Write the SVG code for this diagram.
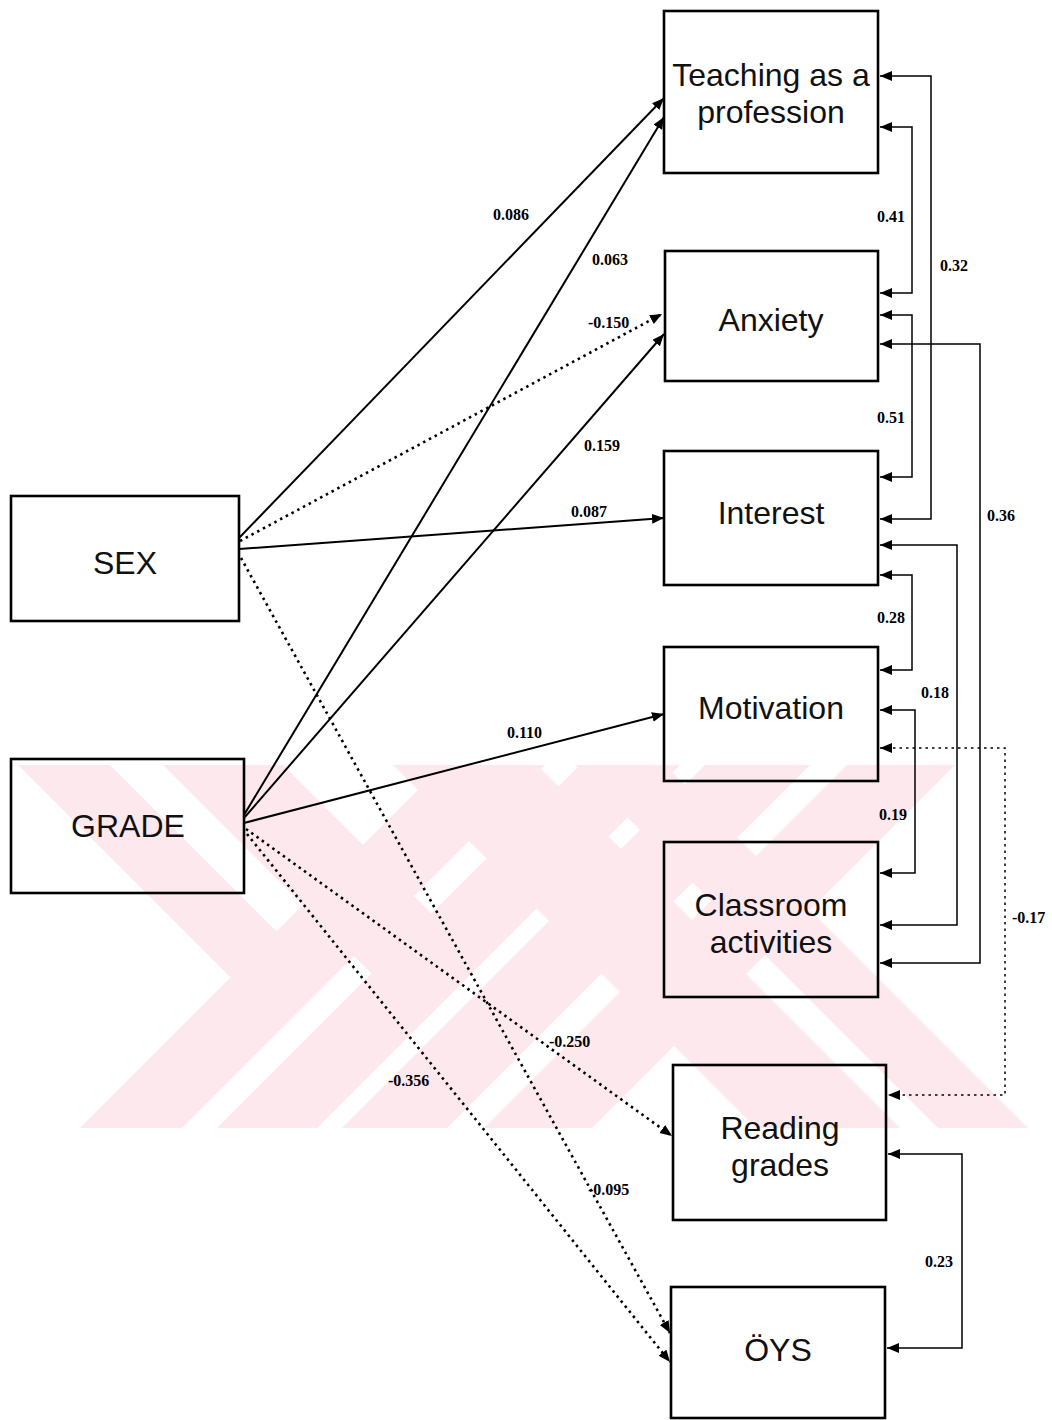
<svg xmlns="http://www.w3.org/2000/svg" width="1052" height="1420" viewBox="0 0 1052 1420">
  <style>
    .box { fill: none; stroke: #000; stroke-width: 2.6; }
    .lbl { font-family: "Liberation Sans", Arial, sans-serif; font-size: 32px; fill: #111; text-anchor: middle; }
    .num { font-family: "Liberation Serif", "Times New Roman", serif; font-size: 16px; font-weight: bold; fill: #000; }
    .path { fill: none; stroke: #000; stroke-width: 2; marker-end: url(#arrow); }
    .dot { stroke-dasharray: 2.5 4; stroke-width: 2.6; }
    .link { fill: none; stroke: #000; stroke-width: 1.5; marker-start: url(#arrow); marker-end: url(#arrow); }
    .wm { fill: #fde9ed; }
  </style>
  <defs>
    <marker id="arrow" markerUnits="userSpaceOnUse" markerWidth="13" markerHeight="11" refX="12" refY="5" orient="auto-start-reverse">
      <path d="M0,0 L12,5 L0,10 z" fill="#000"/>
    </marker>
    <clipPath id="wmClip">
      <rect x="18" y="765" width="1010" height="363"/>
    </clipPath>
  </defs>
  <rect width="1052" height="1420" fill="#fff"/>

  <!-- background mark: diagonal bands at 45 degrees -->
  <g id="watermark" clip-path="url(#wmClip)">
    <polygon class="wm" points="443,765 545,765 182,1128 80,1128"/>
    <polygon class="wm" points="580,765 680,765 317,1128 217,1128"/>
    <polygon class="wm" points="705,765 810,765 447,1128 342,1128"/>
    <polygon class="wm" points="847,765 955,765 592,1128 484,1128"/>
    <polygon class="wm" points="393,765 537,765 900,1128 756,1128"/>
    <polygon class="wm" points="575,765 665,765 1028,1128 938,1128"/>
    <polygon class="wm" points="18,765 110,765 327.5,982.5 281.5,1028.5"/>
    <polygon class="wm" points="163,765 283,765 481.5,963.5 421.5,1023.5"/>
  </g>

  <!-- paths -->
  <g id="connectors">
    <path class="path" d="M239,538 L664,98"/>
    <path class="path dot" d="M240,541 L662,314"/>
    <path class="path" d="M239,549 L664,518"/>
    <path class="path dot" d="M241,558 L670,1333"/>
    <path class="path" d="M244,815 L664,117"/>
    <path class="path" d="M244,818 L664,334"/>
    <path class="path" d="M244,823 L664,714"/>
    <path class="path dot" d="M246,829 L672,1136"/>
    <path class="path dot" d="M247,834 L670,1362"/>

    <path class="link" d="M880,127 H912 V293 H880"/>
    <path class="link" d="M880,76 H931 V519 H880"/>
    <path class="link" d="M880,315 H912 V477 H880"/>
    <path class="link" d="M880,344 H980 V963 H880"/>
    <path class="link" d="M880,545 H957 V925 H880"/>
    <path class="link" d="M880,575 H912 V670 H880"/>
    <path class="link" d="M880,710 H915 V873 H880"/>
    <path class="link dot" d="M880,748 H1005 V1095 H888"/>
    <path class="link" d="M888,1154 H962 V1348 H887"/>

    <text class="num" x="493" y="220">0.086</text>
    <text class="num" x="592" y="265">0.063</text>
    <text class="num" x="588" y="328">-0.150</text>
    <text class="num" x="584" y="451">0.159</text>
    <text class="num" x="571" y="517">0.087</text>
    <text class="num" x="507" y="738">0.110</text>
    <text class="num" x="549" y="1047">-0.250</text>
    <text class="num" x="388" y="1086">-0.356</text>
    <text class="num" x="588" y="1195">-0.095</text>
    <text class="num" x="877" y="222">0.41</text>
    <text class="num" x="940" y="271">0.32</text>
    <text class="num" x="877" y="423">0.51</text>
    <text class="num" x="987" y="521">0.36</text>
    <text class="num" x="877" y="623">0.28</text>
    <text class="num" x="921" y="698">0.18</text>
    <text class="num" x="879" y="820">0.19</text>
    <text class="num" x="1012" y="923">-0.17</text>
    <text class="num" x="925" y="1267">0.23</text>
  </g>

  <g id="sex">
    <rect class="box" x="11" y="496" width="228" height="125"/>
    <text class="lbl" x="125" y="574">SEX</text>
  </g>
  <g id="grade">
    <rect class="box" x="11" y="759" width="233" height="134"/>
    <text class="lbl" x="128" y="837">GRADE</text>
  </g>
  <g id="teaching">
    <rect class="box" x="664" y="11" width="214" height="162"/>
    <text class="lbl" x="771" y="86">Teaching as a</text>
    <text class="lbl" x="771" y="123">profession</text>
  </g>
  <g id="anxiety">
    <rect class="box" x="665" y="251" width="213" height="130"/>
    <text class="lbl" x="771" y="331">Anxiety</text>
  </g>
  <g id="interest">
    <rect class="box" x="664" y="451" width="214" height="134"/>
    <text class="lbl" x="771" y="524">Interest</text>
  </g>
  <g id="motivation">
    <rect class="box" x="664" y="647" width="214" height="134"/>
    <text class="lbl" x="771" y="719">Motivation</text>
  </g>
  <g id="classroom">
    <rect class="box" x="664" y="842" width="214" height="155"/>
    <text class="lbl" x="771" y="916">Classroom</text>
    <text class="lbl" x="771" y="953">activities</text>
  </g>
  <g id="reading">
    <rect class="box" x="673" y="1065" width="213" height="155"/>
    <text class="lbl" x="780" y="1139">Reading</text>
    <text class="lbl" x="780" y="1176">grades</text>
  </g>
  <g id="oys">
    <rect class="box" x="671" y="1287" width="214" height="131"/>
    <text class="lbl" x="778" y="1361">ÖYS</text>
  </g>
</svg>
